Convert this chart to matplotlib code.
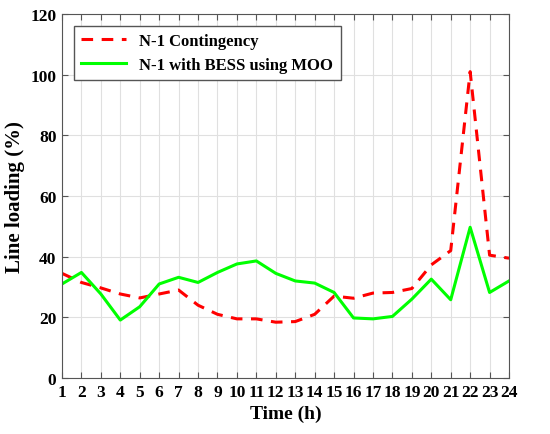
import numpy as np
import matplotlib.pyplot as plt

# Dados
horas = np.arange(1, 25)
n1_contingencia = [34.5, 31.5, 29.7, 27.7, 26.4, 27.7, 29.0, 24.0, 21.0, 19.5, 19.5, 18.4,
                   18.6, 21.0, 27.0, 26.3, 28.0, 28.2, 29.5, 37.3, 42.0, 101.0, 40.5, 39.5]
n1_bess_moo = [31.0, 34.8, 27.7, 19.1, 23.5, 31.0, 33.2, 31.5, 34.8, 37.6, 38.6, 34.5,
               32.0, 31.3, 28.2, 19.8, 19.5, 20.3, 26.0, 32.6, 25.8, 49.7, 28.2, 32.0]

plt.rcParams['font.family'] = ['Liberation Serif', 'DejaVu Serif']
plt.rcParams['font.weight'] = 'bold'

fig = plt.figure(figsize=(5.5, 4.35), dpi=100)
ax = fig.add_axes([0.1127, 0.1287, 0.8128, 0.8368])

ax.plot(horas, n1_contingencia, color='#ff0000', linestyle=(0, (3.8, 2.8)), linewidth=2.2,
        label='N-1 Contingency')
ax.plot(horas, n1_bess_moo, color='#00ff00', linestyle='-', linewidth=2.2,
        label='N-1 with BESS using MOO')

ax.set_xlim([1, 24])
ax.set_ylim([0, 120])
ax.set_xticks(horas)
ax.set_yticks(np.arange(0, 121, 20))
ax.grid(True, color='#e0e0e0', linewidth=0.8)
ax.set_axisbelow(True)

ax.tick_params(direction='in', top=True, right=True, length=4, color='#555555',
               labelsize=12.5, pad=4)
for s in ax.spines.values():
    s.set_color('#555555')

ax.set_xlabel('Time (h)', fontsize=14, fontweight='bold')
ax.set_ylabel('Line loading (%)', fontsize=15, fontweight='bold')

leg = ax.legend(loc='upper left', fontsize=12, fancybox=False, framealpha=1,
                edgecolor='#555555', handlelength=2.7, borderaxespad=0.7,
                borderpad=0.45, labelspacing=0.45)
leg.get_frame().set_linewidth(1.0)

plt.savefig('out.png', dpi=100)
